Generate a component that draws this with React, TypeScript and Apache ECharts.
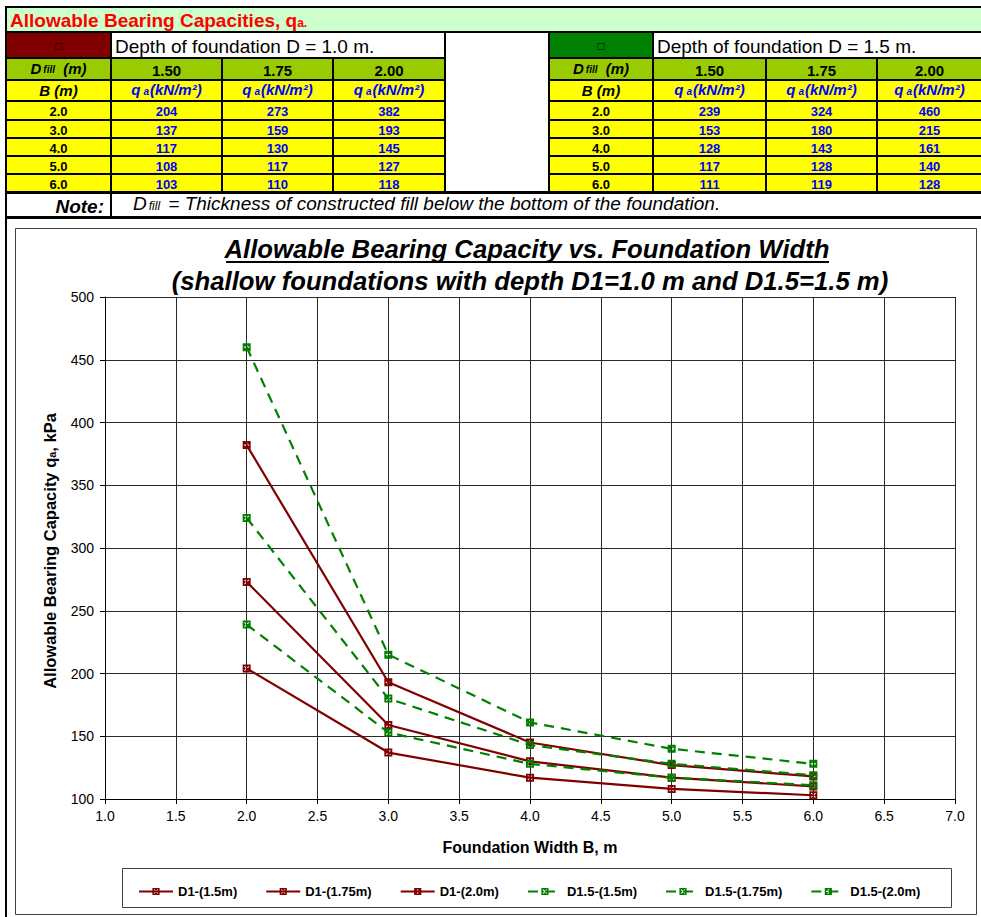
import React, { useEffect, useRef } from 'react';
import * as echarts from 'echarts';

// ---------- data ----------
const widthsB = [2.0, 3.0, 4.0, 5.0, 6.0];
const fillDepths = ['1.50', '1.75', '2.00'];
const d1Fill150 = [204, 137, 117, 108, 103];
const d1Fill175 = [273, 159, 130, 117, 110];
const d1Fill200 = [382, 193, 145, 127, 118];
const d15Fill150 = [239, 153, 128, 117, 111];
const d15Fill175 = [324, 180, 143, 128, 119];
const d15Fill200 = [460, 215, 161, 140, 128];
const seriesNames = ['D1-(1.5m)', 'D1-(1.75m)', 'D1-(2.0m)', 'D1.5-(1.5m)', 'D1.5-(1.75m)', 'D1.5-(2.0m)'];
const xMin = 1.0, xMax = 7.0, xStep = 0.5;
const yMin = 100, yMax = 500, yStep = 50;

const FF = '"Liberation Sans", Arial, Helvetica, sans-serif';
const DARK_RED = '#800000';
const GREEN = '#008000';

const MARK_X = 'path://M0,0L8,0L8,8L0,8Z M1.5,2.2L3.3,4L1.5,5.8L2.2,6.5L4,4.7L5.8,6.5L6.5,5.8L4.7,4L6.5,2.2L5.8,1.5L4,3.3L2.2,1.5Z';
const MARK_PLUS = 'path://M0,0L8,0L8,8L0,8Z M3.4,1.5L3.4,3.4L1.5,3.4L1.5,4.6L3.4,4.6L3.4,6.5L4.6,6.5L4.6,4.6L6.5,4.6L6.5,3.4L4.6,3.4L4.6,1.5Z';

const rowsY: [number, number][] = [[33, 57], [59, 79], [81, 100], [102, 119], [121, 137], [139, 155], [157, 173], [175, 191]];

function rect(x: number, y: number, w: number, h: number, fill: string): any {
  return { type: 'rect', shape: { x, y, width: w, height: h }, style: { fill }, silent: true };
}
function txt(x: number, y: number, text: string, opts: any = {}): any {
  return {
    type: 'text', x, y, silent: true,
    style: {
      text, fontFamily: FF, fontSize: opts.size || 13, fontWeight: opts.weight || 'normal',
      fontStyle: opts.style || 'normal', fill: opts.color || '#000',
      align: opts.align || 'center', verticalAlign: 'middle', rich: opts.rich,
    },
  };
}

function buildTable(L: number[], R: number[], headColor: string, depthText: string, cols: number[][]): any[] {
  const els: any[] = [];
  const [r2a, r2b] = rowsY[0];
  els.push(rect(L[0], r2a, R[0] - L[0], r2b - r2a, headColor));
  els.push(rect(L[1], r2a, R[3] - L[1], r2b - r2a, '#FFFFFF'));
  els.push(txt((L[0] + R[0]) / 2, (r2a + r2b) / 2 + 1, '□', { size: 12, color: '#000' }));
  els.push(txt(L[1] + 3, (r2a + r2b) / 2 + 1, depthText, { size: 19, align: 'left' }));
  // row 3
  const [r3a, r3b] = rowsY[1];
  for (let c = 0; c < 4; c++) els.push(rect(L[c], r3a, R[c] - L[c], r3b - r3a, '#99CC00'));
  els.push(txt((L[0] + R[0]) / 2, (r3a + r3b) / 2 - 1, '{a|D}{b|fill}{a| (m)}', {
    rich: {
      a: { fontFamily: FF, fontSize: 15, fontWeight: 'bold', fontStyle: 'italic', fill: '#000' },
      b: { fontFamily: FF, fontSize: 10, fontWeight: 'bold', fontStyle: 'italic', fill: '#000', padding: [2, 4, 0, 2] },
    },
  }));
  for (let c = 1; c < 4; c++) els.push(txt((L[c] + R[c]) / 2, (r3a + r3b) / 2 + 1, fillDepths[c - 1], { size: 15, weight: 'bold' }));
  // row 4
  const [r4a, r4b] = rowsY[2];
  for (let c = 0; c < 4; c++) els.push(rect(L[c], r4a, R[c] - L[c], r4b - r4a, '#FFFF00'));
  els.push(txt((L[0] + R[0]) / 2, (r4a + r4b) / 2, 'B (m)', { size: 15, weight: 'bold', style: 'italic' }));
  for (let c = 1; c < 4; c++) {
    els.push(txt((L[c] + R[c]) / 2, (r4a + r4b) / 2 - 1, '{q|q}{s|a}{q|(kN/m²)}', {
      rich: {
        q: { fontFamily: FF, fontSize: 15, fontWeight: 'bold', fontStyle: 'italic', fill: '#0000FF' },
        s: { fontFamily: FF, fontSize: 10, fontWeight: 'bold', fontStyle: 'italic', fill: '#0000FF', padding: [3, 1, 0, 3] },
      },
    }));
  }
  // data rows
  for (let r = 0; r < widthsB.length; r++) {
    const [ya, yb] = rowsY[3 + r];
    for (let c = 0; c < 4; c++) els.push(rect(L[c], ya, R[c] - L[c], yb - ya, '#FFFF00'));
    els.push(txt((L[0] + R[0]) / 2, (ya + yb) / 2 + 1, widthsB[r].toFixed(1), { size: 13, weight: 'bold' }));
    for (let c = 1; c < 4; c++) {
      els.push(txt((L[c] + R[c]) / 2, (ya + yb) / 2 + 1, String(cols[c - 1][r]), { size: 13, weight: 'bold', color: '#0000FF' }));
    }
  }
  return els;
}

const App: React.FC = () => {
  const ref = useRef<HTMLDivElement>(null);
  useEffect(() => {
    if (!ref.current) return;
    const chart = echarts.init(ref.current, undefined, { renderer: 'svg' });

    const graphics: any[] = [];
    // table background (black borders)
    graphics.push(rect(5, 6, 976, 213, '#000000'));
    graphics.push(rect(7, 8, 974, 23, '#CCFFCC'));
    graphics.push(txt(10, 20, '{t|Allowable Bearing Capacities, q}{s|a.}', {
      align: 'left',
      rich: {
        t: { fontFamily: FF, fontSize: 19, fontWeight: 'bold', fill: '#FF0000' },
        s: { fontFamily: FF, fontSize: 12, fontWeight: 'bold', fill: '#FF0000', padding: [5, 0, 0, 0] },
      },
    }));
    graphics.push(rect(446, 33, 102, 158, '#FFFFFF'));
    graphics.push(...buildTable([7, 112, 223, 334], [110, 221, 332, 444], DARK_RED, 'Depth of foundation D = 1.0 m.', [d1Fill150, d1Fill175, d1Fill200]));
    graphics.push(...buildTable([550, 654, 767, 878], [652, 765, 876, 981], GREEN, 'Depth of foundation D = 1.5 m.', [d15Fill150, d15Fill175, d15Fill200]));
    // note row
    graphics.push(rect(7, 194, 103, 22, '#FFFFFF'));
    graphics.push(rect(112, 194, 869, 22, '#FFFFFF'));
    graphics.push(txt(104, 206, 'Note:', { size: 19, weight: 'bold', style: 'italic', align: 'right' }));
    graphics.push(txt(133, 203, '{i|D}{s|fill}{i| = Thickness of constructed fill below the bottom of the foundation.}', {
      align: 'left',
      rich: {
        i: { fontFamily: FF, fontSize: 19, fontStyle: 'italic', fill: '#000' },
        s: { fontFamily: FF, fontSize: 12, fontStyle: 'italic', fill: '#000', padding: [5, 3, 0, 2] },
      },
    }));
    // left page border
    graphics.push(rect(5, 219, 2, 698, '#000000'));
    // chart frame
    graphics.push({ type: 'rect', silent: true, shape: { x: 15.5, y: 228.5, width: 961, height: 686 }, style: { fill: 'none', stroke: '#404040', lineWidth: 1 } });
    // chart title
    graphics.push(txt(527, 249, 'Allowable Bearing Capacity vs. Foundation Width', { size: 25.7, weight: 'bold', style: 'italic' }));
    graphics.push({ type: 'line', silent: true, shape: { x1: 226, y1: 262, x2: 829, y2: 262 }, style: { stroke: '#000', lineWidth: 2 } });
    graphics.push(txt(530, 281, '(shallow foundations with depth D1=1.0 m and D1.5=1.5 m)', { size: 25.7, weight: 'bold', style: 'italic' }));
    // axis titles
    graphics.push({
      type: 'text', x: 50, y: 551, rotation: Math.PI / 2, silent: true,
      style: {
        text: '{t|Allowable Bearing Capacity q}{s|a}{t|, kPa}', align: 'center', verticalAlign: 'middle',
        rich: {
          t: { fontFamily: FF, fontSize: 16.5, fontWeight: 'bold', fill: '#000' },
          s: { fontFamily: FF, fontSize: 11, fontWeight: 'bold', fill: '#000', padding: [4, 0, 0, 0] },
        },
      },
    });
    graphics.push(txt(530, 847, 'Foundation Width B, m', { size: 16, weight: 'bold' }));
    // legend box
    graphics.push({ type: 'rect', silent: true, shape: { x: 122.5, y: 868.5, width: 829, height: 39 }, style: { fill: 'none', stroke: '#404040', lineWidth: 1 } });

    const allVals = [d1Fill150, d1Fill175, d1Fill200, d15Fill150, d15Fill175, d15Fill200];
    const symbols = [MARK_X, MARK_X, MARK_PLUS, MARK_X, MARK_X, MARK_PLUS];
    const series = allVals.map((vals, i) => {
      const color = i < 3 ? DARK_RED : GREEN;
      return {
        name: seriesNames[i],
        type: 'line',
        data: widthsB.map((b, k) => [b, vals[k]]),
        symbol: symbols[i],
        symbolSize: 8,
        showAllSymbol: true,
        itemStyle: { color },
        lineStyle: { color, width: 2.2, type: i < 3 ? 'solid' : [10, 7] },
        z: 3,
      };
    });

    chart.setOption({
      animation: false,
      textStyle: { fontFamily: FF },
      grid: { left: 105, top: 297, width: 850, height: 502, containLabel: false },
      xAxis: {
        type: 'value', min: xMin, max: xMax, interval: xStep,
        axisLine: { show: true, lineStyle: { color: '#000', width: 1 } },
        axisTick: { show: true, length: 5, lineStyle: { color: '#000' } },
        axisLabel: { color: '#000', fontSize: 14, fontFamily: FF, margin: 10, formatter: (v: number) => v.toFixed(1) },
        splitLine: { show: true, lineStyle: { color: '#2a2a2a', width: 1 } },
      },
      yAxis: {
        type: 'value', min: yMin, max: yMax, interval: yStep,
        axisLine: { show: true, lineStyle: { color: '#000', width: 1 } },
        axisTick: { show: true, length: 5, lineStyle: { color: '#000' } },
        axisLabel: { color: '#000', fontSize: 14, fontFamily: FF, margin: 11 },
        splitLine: { show: true, lineStyle: { color: '#2a2a2a', width: 1 } },
      },
      legend: {
        data: seriesNames,
        left: 133, top: 880,
        itemWidth: 34, itemHeight: 9, itemGap: 28,
        textStyle: { fontFamily: FF, fontSize: 13, fontWeight: 'bold', color: '#000' },
      },
      graphic: graphics,
      series,
    });
    return () => chart.dispose();
  }, []);
  return <div ref={ref} style={{ position: 'fixed', left: 0, top: 0, width: 981, height: 917, background: '#fff' }} />;
};

export default App;
